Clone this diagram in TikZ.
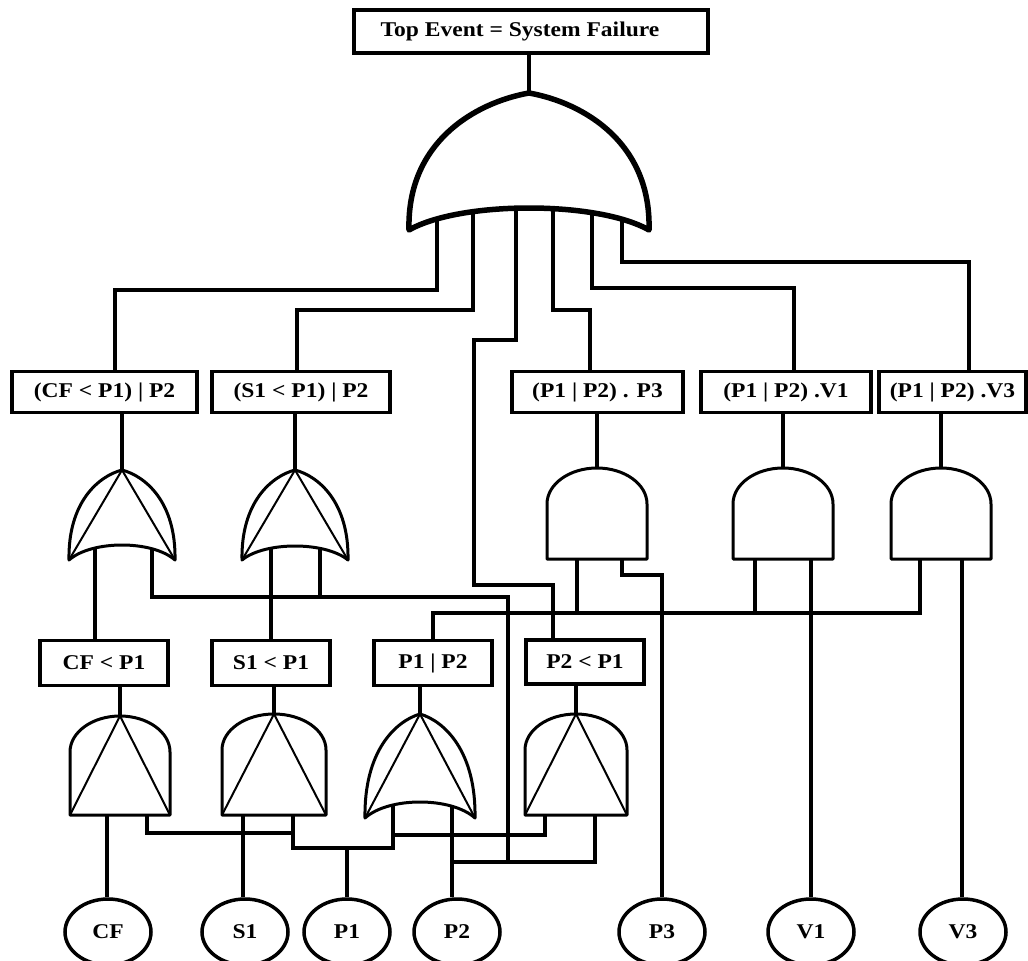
\documentclass[tikz,border=0pt]{standalone}
\usepackage{fontspec}
\setmainfont{Liberation Serif}[FakeStretch=1.12]
\usetikzlibrary{shapes.geometric,calc}
\pgfdeclarelayer{wires}
\pgfsetlayers{wires,main}

% OR gate: #1 style, #2 name, #3/#4 apex, #5 half width, #6 height, #7 depth of the bottom arc's peak
\newcommand\orgate[7]{%
  \begin{scope}[shift={(#3,#4)}]
    \coordinate (#2) at (0,0);
    \path[#1] (0,0) .. controls ({-0.45*#5},{0.07*#6}) and ({-1.02*#5},{0.36*#6}) .. ({-#5},#6)
      .. controls ({-0.57*#5},{(4*#7-#6)/3}) and ({0.57*#5},{(4*#7-#6)/3}) .. (#5,#6)
      .. controls ({1.02*#5},{0.36*#6}) and ({0.45*#5},{0.07*#6}) .. cycle;
  \end{scope}}
% AND gate: #1 style, #2 name, #3/#4 top centre, #5 half width, #6 height, #7 height of the rounded top
\newcommand\andgate[7]{%
  \begin{scope}[shift={(#3,#4)}]
    \coordinate (#2) at (0,0);
    \path[#1] ({-#5},#6) -- ({-#5},#7) .. controls ({-#5},{0.448*#7}) and ({-0.552*#5},0) .. (0,0)
      .. controls ({0.552*#5},0) and (#5,{0.448*#7}) .. (#5,#7) -- (#5,#6) -- cycle;
  \end{scope}}
% inner lines of a priority gate, from the apex to both bottom corners
\newcommand\priolines[3]{%
  \draw[inner] ($(#1)+({-#2},#3)$) -- (#1) -- ($(#1)+(#2,#3)$);}

\begin{document}
\begin{tikzpicture}[x=1pt,y=-1pt,
  wire/.style={line width=3.5pt,line join=miter},
  gate/.style={draw,fill=white,line width=3pt,line join=round},
  biggate/.style={draw,fill=white,line width=5.5pt,line join=round},
  inner/.style={line width=2pt,line join=miter},
  lbl/.style={font=\bfseries\fontsize{21}{21}\selectfont},
  box/.style={lbl,draw,fill=white,line width=3.5pt,inner sep=0pt,minimum height=41pt},
  evt/.style={lbl,ellipse,draw,fill=white,line width=3.5pt,inner sep=0pt,minimum width=86pt,minimum height=66pt}]
\useasboundingbox (0,0) rectangle (1028,961);

% ---- event boxes ----
\node[box,minimum width=354pt,minimum height=43pt] (top) at (531,31.5) {\hspace*{-22pt}Top Event = System Failure};
\node[box,minimum width=185pt] (b1) at (104.5,392) {(CF < P1) | P2};
\node[box,minimum width=178pt] (b2) at (301,392) {(S1 < P1) | P2};
\node[box,minimum width=171pt] (b3) at (597.5,392) {(P1 | P2) . P3};
\node[box,minimum width=170pt] (b4) at (786,392) {(P1 | P2) .V1};
\node[box,minimum width=147pt] (b5) at (952.5,392) {(P1 | P2) .V3};
\node[box,minimum width=128pt,minimum height=45pt] (c1) at (104,663) {CF < P1};
\node[box,minimum width=118pt,minimum height=45pt] (c2) at (271,663) {S1 < P1};
\node[box,minimum width=118pt,minimum height=45pt] (c3) at (433,663) {P1 | P2};
\node[box,minimum width=118pt,minimum height=44pt] (c4) at (585,662) {P2 < P1};

% ---- basic events ----
\node[evt] (cf) at (108,932) {CF};
\node[evt] (s1) at (245,932) {S1};
\node[evt] (p1) at (347,932) {P1};
\node[evt] (p2) at (457,932) {P2};
\node[evt] (p3) at (662,932) {P3};
\node[evt] (v1) at (811,932) {V1};
\node[evt] (v3) at (963,932) {V3};

% ---- gates ----
\orgate{biggate}{g0}{529}{93}{120}{137}{115}
\orgate{gate}{oa1}{122}{470}{53}{90}{75}   \priolines{oa1}{53}{90}
\orgate{gate}{oa2}{295}{470}{53}{90}{76}   \priolines{oa2}{53}{90}
\andgate{gate}{a3}{597}{468}{50}{91}{36}
\andgate{gate}{a4}{783}{468}{50}{91}{36}
\andgate{gate}{a5}{941}{468}{50}{91}{36}
\andgate{gate}{pa1}{120}{716}{50}{99}{36}  \priolines{pa1}{50}{99}
\andgate{gate}{pa2}{274}{714}{52}{101}{36} \priolines{pa2}{52}{101}
\orgate{gate}{ob3}{420}{714}{55}{104}{88}  \priolines{ob3}{55}{104}
\andgate{gate}{pa4}{576}{714}{51}{101}{36} \priolines{pa4}{51}{101}

% gate inputs
\coordinate (g0a) at (437,200); \coordinate (g0b) at (473,200);
\coordinate (g0c) at (516,200); \coordinate (g0d) at (553,200);
\coordinate (g0e) at (592,200); \coordinate (g0f) at (622,200);
\coordinate (oa1a) at (95,535);  \coordinate (oa1b) at (152,535);
\coordinate (oa2a) at (271,535); \coordinate (oa2b) at (320,535);
\coordinate (a3a) at (577,548);  \coordinate (a3b) at (622,548);
\coordinate (a4a) at (755,548);  \coordinate (a4b) at (811,548);
\coordinate (a5a) at (920,548);  \coordinate (a5b) at (962,548);
\coordinate (pa1a) at (107,805); \coordinate (pa1b) at (147,805);
\coordinate (pa2a) at (243,805); \coordinate (pa2b) at (293,805);
\coordinate (ob3a) at (393,789); \coordinate (ob3b) at (452,789);
\coordinate (pa4a) at (545,805); \coordinate (pa4b) at (595,805);
% junctions
\coordinate (busA) at (508,597);
\coordinate (busB) at (433,613);
\coordinate (jP1) at (347,848);
\coordinate (jP2) at (508,862);

\begin{pgfonlayer}{wires}
\fill[white] (0,0) rectangle (1028,961);
\begin{scope}[wire]
  \draw (g0) -- (g0 |- top.south);
  \draw (g0a) -- ++(0,90) -| ([xshift=10.5pt]b1.north);
  \draw (g0b) -- ++(0,110) -| ([xshift=-4pt]b2.north);
  \draw (g0c) -- ++(0,140) -- ++(-42,0) -- ++(0,245) -| ([xshift=-32pt]c4.north);
  \draw (g0d) -- ++(0,110) -| ([xshift=-7.5pt]b3.north);
  \draw (g0e) -- ++(0,88) -| ([xshift=8pt]b4.north);
  \draw (g0f) -- ++(0,62) -| ([xshift=16.5pt]b5.north);

  \draw (oa1) -- (oa1 |- b1.south);
  \draw (oa2) -- (oa2 |- b2.south);
  \draw (a3) -- (a3 |- b3.south);
  \draw (a4) -- (a4 |- b4.south);
  \draw (a5) -- (a5 |- b5.south);

  \draw (oa1a) -- (oa1a |- c1.north);
  \draw (oa2a) -- (oa2a |- c2.north);
  \draw (oa1b) |- (busA) -- (jP2);
  \draw (oa2b) -- (oa2b |- busA);

  \draw (c3.north) -- (busB) -| (a5a);
  \draw (a3a) -- (a3a |- busB);
  \draw (a4a) -- (a4a |- busB);
  \draw (a3b) -- ++(0,27) -| (p3.north);
  \draw (a4b) -- (a4b |- v1.north);
  \draw (a5b) -- (a5b |- v3.north);

  \draw (pa1) -- (pa1 |- c1.south);
  \draw (pa2) -- (pa2 |- c2.south);
  \draw (ob3) -- (ob3 |- c3.south);
  \draw (pa4) -- (pa4 |- c4.south);

  \draw (pa1a) -- (pa1a |- cf.north);
  \draw (pa2a) -- (pa2a |- s1.north);
  \draw (pa1b) -- ++(0,28) -| (pa2b);
  \draw (pa2b) |- (jP1) -| (ob3a);
  \draw (p1.north) -- (jP1);
  \draw (pa4a) -- ++(0,30) -| (ob3a);
  \draw (pa4b) |- (jP2 -| ob3b);
  \draw (ob3b) -- (ob3b |- p2.north);
\end{scope}
\end{pgfonlayer}
\end{tikzpicture}
\end{document}
